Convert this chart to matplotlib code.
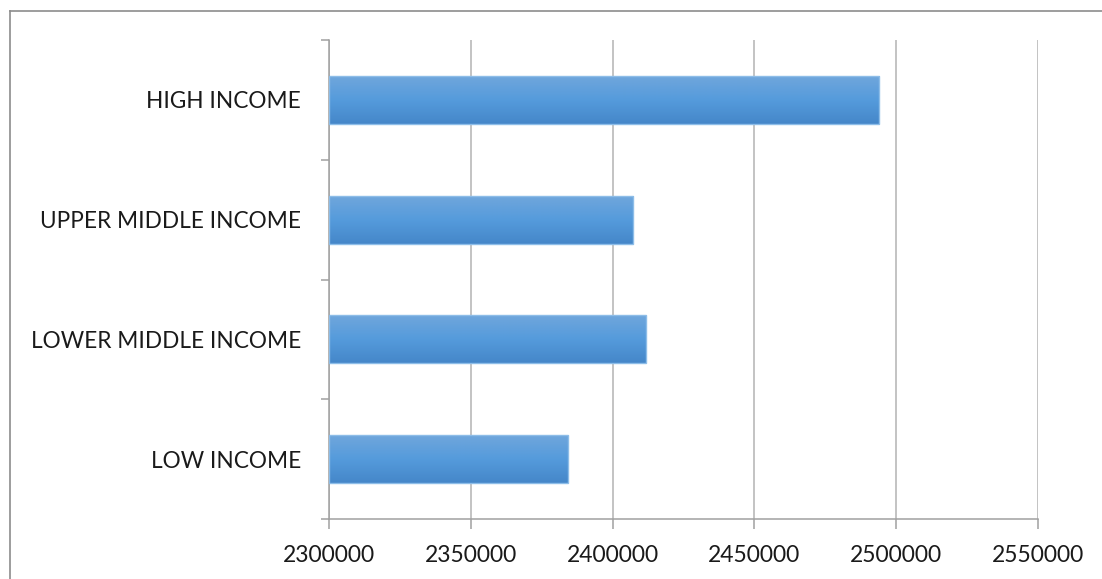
import matplotlib
matplotlib.use("Agg")
import matplotlib.pyplot as plt
import numpy as np
from matplotlib.colors import LinearSegmentedColormap
from matplotlib.lines import Line2D

# values, bottom to top
categories = ["LOW INCOME", "LOWER MIDDLE INCOME", "UPPER MIDDLE INCOME", "HIGH INCOME"]
values = [2384100, 2411700, 2407200, 2494100]
x_ticks = [2300000, 2350000, 2400000, 2450000, 2500000, 2550000]

plt.rcParams['font.family'] = ['Lato', 'DejaVu Sans']

W, H = 1102, 579
fig = plt.figure(figsize=(W / 100, H / 100), dpi=100)
ax = fig.add_axes([329 / W, 1 - 519 / H, (1038 - 329) / W, (519 - 40) / H])

grad = LinearSegmentedColormap.from_list("bar", ["#4587c9", "#559bdc", "#6fa6dc"])
gimg = np.linspace(0, 1, 64).reshape(-1, 1)

y = np.arange(len(categories))
bars = ax.barh(y, [v - x_ticks[0] for v in values], left=x_ticks[0], height=0.4,
               color="none", edgecolor="#8dbde8", linewidth=1, zorder=3)
for b in bars:
    x0, y0 = b.get_x(), b.get_y()
    im = ax.imshow(gimg, cmap=grad, aspect="auto", origin="lower",
                   extent=(x0, x0 + b.get_width(), y0, y0 + b.get_height()), zorder=2)
    im.set_clip_path(b)

ax.set_xlim(x_ticks[0], x_ticks[-1])
ax.set_ylim(-0.5, len(categories) - 0.5)
ax.set_xticks(x_ticks)
ax.set_xticklabels([str(t) for t in x_ticks])
ax.set_yticks(y)
ax.set_yticklabels(categories)
ax.set_yticks(np.arange(len(categories) + 1) - 0.5, minor=True)

ax.grid(axis="x", color="#b3b3b3", linewidth=1.1, zorder=0)
ax.set_axisbelow(True)
for s in ["top", "right"]:
    ax.spines[s].set_visible(False)
for s in ["left", "bottom"]:
    ax.spines[s].set_color("#a0a0a0")
    ax.spines[s].set_linewidth(1.1)

ax.tick_params(axis="y", which="major", length=0, pad=20, labelsize=16.3, labelcolor="#1a1a1a")
ax.tick_params(axis="y", which="minor", length=6, width=1.1, color="#a0a0a0")
ax.tick_params(axis="x", length=7, width=1.1, color="#a0a0a0", pad=12, labelsize=16.5,
               labelcolor="#1a1a1a")

# chart frame (left and top edges visible)
fig.add_artist(Line2D([10 / W, 10 / W], [0, 1 - 11 / H], color="#8c8c8c", linewidth=1.2))
fig.add_artist(Line2D([10 / W, 1], [1 - 11 / H, 1 - 11 / H], color="#8c8c8c", linewidth=1.2))

fig.savefig("out.png", dpi=100, facecolor="white")
